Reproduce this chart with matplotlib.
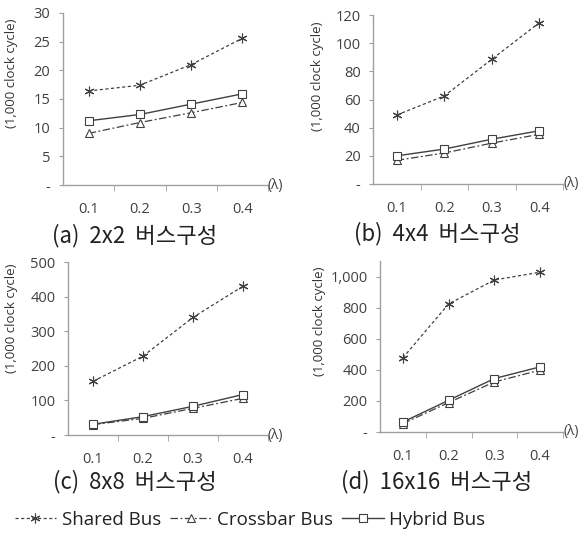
import matplotlib
matplotlib.use("Agg")
import matplotlib.pyplot as plt
from matplotlib.ticker import FuncFormatter, FixedLocator
from matplotlib.lines import Line2D

categories = ["0.1", "0.2", "0.3", "0.4"]

shared_a = [16.4, 17.4, 21.0, 25.6]
crossbar_a = [9.0, 10.9, 12.6, 14.4]
hybrid_a = [11.2, 12.3, 14.1, 15.9]

shared_b = [49.0, 62.5, 88.5, 114.5]
crossbar_b = [16.8, 22.0, 29.0, 35.3]
hybrid_b = [20.0, 24.8, 31.8, 37.8]

shared_c = [155, 228, 340, 430]
crossbar_c = [30, 48, 77, 106]
hybrid_c = [31, 53, 83, 117]

shared_d = [477, 824, 978, 1028]
crossbar_d = [54, 189, 322, 398]
hybrid_d = [64, 204, 344, 419]

titles = ["(a)  2x2  버스구성", "(b)  4x4  버스구성", "(c)  8x8  버스구성", "(d)  16x16  버스구성"]
ylims = [(0, 30), (0, 120), (0, 500), (0, 1100)]
yticks = [[0, 5, 10, 15, 20, 25, 30], [0, 20, 40, 60, 80, 100, 120],
          [0, 100, 200, 300, 400, 500], [0, 200, 400, 600, 800, 1000]]
series = [(shared_a, crossbar_a, hybrid_a), (shared_b, crossbar_b, hybrid_b),
          (shared_c, crossbar_c, hybrid_c), (shared_d, crossbar_d, hybrid_d)]
legend_labels = ["Shared Bus", "Crossbar Bus", "Hybrid Bus"]

W, H = 583, 540
fig = plt.figure(figsize=(W / 100, H / 100), dpi=100)

# pixel boxes: left, right, top, bottom
boxes = [(63, 268, 13, 185), (373, 563, 15, 184), (68, 268, 262, 435), (380, 563, 261, 432)]
title_pos = [(135, 236), (437, 234), (135, 482), (437, 482)]
ylab_pos = [(12, 73), (318, 76), (12, 318), (320, 321)]

LINE = "#404040"
AX = "#a0a0a0"
TXT = "#404040"
num_font = "Open Sans"
kfont = ["Noto Sans CJK KR", "DejaVu Sans"]

def fmt(v, pos):
    if v == 0:
        return "-"
    return f"{v:,.0f}"

sh_style = dict(color=LINE, linestyle=(0, (2.5, 2)), linewidth=0.9, marker=(6, 2, 0),
                markersize=7, markeredgewidth=0.8, markeredgecolor=LINE)
cb_style = dict(color=LINE, linestyle=(0, (6, 2, 1.5, 2)), linewidth=0.9, marker="^",
                markersize=5.5, markerfacecolor="white", markeredgecolor=LINE, markeredgewidth=0.8)
hy_style = dict(color=LINE, linestyle="-", linewidth=1.0, marker="s",
                markersize=6, markerfacecolor="white", markeredgecolor=LINE, markeredgewidth=0.8)

x = list(range(len(categories)))
for i, (l, r, t, b) in enumerate(boxes):
    ax = fig.add_axes([l / W, 1 - b / H, (r - l) / W, (b - t) / H])
    sh, cb, hy = series[i]
    ax.plot(x, sh, **sh_style)
    ax.plot(x, cb, **cb_style)
    ax.plot(x, hy, **hy_style)
    ax.set_xlim(-0.5, 3.5)
    ax.set_ylim(*ylims[i])
    for s in ["top", "right"]:
        ax.spines[s].set_visible(False)
    for s in ["left", "bottom"]:
        ax.spines[s].set_color(AX)
        ax.spines[s].set_linewidth(1.0)
    ax.set_xticks(x)
    ax.set_xticklabels(categories)
    ax.xaxis.set_minor_locator(FixedLocator([0.5, 1.5, 2.5, 3.5]))
    ax.tick_params(axis="x", which="major", length=0, pad=12, labelsize=10.5, labelcolor=TXT)
    ax.tick_params(axis="x", which="minor", length=4, color=AX, direction="out")
    ax.set_yticks(yticks[i])
    ax.yaxis.set_major_formatter(FuncFormatter(fmt))
    ax.tick_params(axis="y", length=3, color=AX, labelsize=10.5, labelcolor=TXT, pad=6)
    for lab in ax.get_xticklabels() + ax.get_yticklabels():
        lab.set_fontfamily(num_font)
    lx, ly = ylab_pos[i]
    fig.text(lx / W, 1 - ly / H, "(1,000 clock cycle)", rotation=90,
             ha="center", va="center", fontsize=9.5, color="#333333", family=num_font)
    ax.text(1.0, 0.0, "(λ)", transform=ax.transAxes, ha="left", va="center",
            fontsize=10, color=TXT, family=num_font)
    tx, ty = title_pos[i]
    fig.text(tx / W, 1 - ty / H, titles[i], ha="center", va="center", fontsize=16,
             color="#222222", family=kfont, fontweight="light")

handles = [Line2D([], [], **sh_style), Line2D([], [], **cb_style), Line2D([], [], **hy_style)]
leg = fig.legend(handles, legend_labels, loc="center", bbox_to_anchor=(250 / W, 1 - 520 / H),
                 ncol=3, frameon=False, handlelength=2.2, handletextpad=0.3, columnspacing=0.5,
                 prop={"family": num_font, "size": 13.5})
for t in leg.get_texts():
    t.set_color("#222222")

fig.savefig("out.png", dpi=100)
